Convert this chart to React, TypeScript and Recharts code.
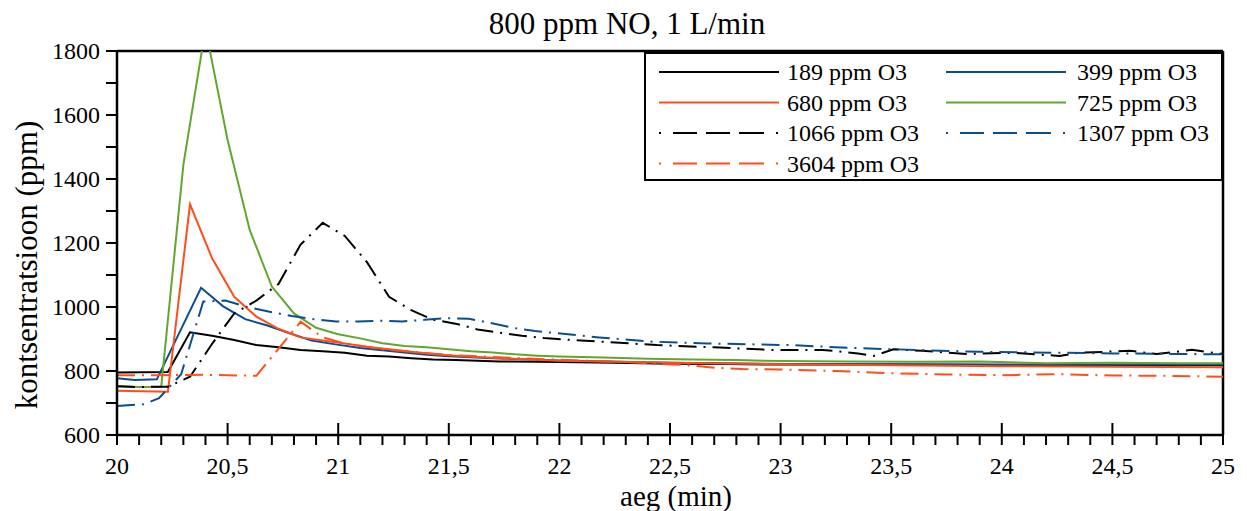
import React from 'react';
import { LineChart, Line, XAxis, YAxis, Legend, ReferenceLine, Label } from 'recharts';

const FONT = "'Liberation Serif', 'Times New Roman', serif";

const TITLE = '800 ppm NO, 1 L/min';
const X_LABEL = 'aeg (min)';
const Y_LABEL = 'kontsentratsioon (ppm)';

const xMajorTicks = [20, 20.5, 21, 21.5, 22, 22.5, 23, 23.5, 24, 24.5, 25];
const yTicks = [600, 700, 800, 900, 1000, 1100, 1200, 1300, 1400, 1500, 1600, 1700, 1800];
const yLabelTicks = [600, 800, 1000, 1200, 1400, 1600, 1800];

const t189 = [20.0, 20.23, 20.33, 20.43, 20.53, 20.63, 20.73, 20.83, 20.93, 21.03, 21.13, 21.23, 21.33, 21.43, 21.53, 21.73, 22.0, 22.25, 22.5, 22.75, 23.0, 23.5, 24.0, 24.5, 25.0];
const v189 = [795, 797, 921, 910, 897, 881, 874, 866, 862, 857, 848, 845, 840, 836, 834, 830, 828, 826, 823, 822, 820, 820, 819, 818, 818];

const t399 = [20.0, 20.08, 20.18, 20.38, 20.48, 20.58, 20.68, 20.78, 20.88, 20.98, 21.1, 21.2, 21.3, 21.4, 21.5, 21.7, 22.0, 22.5, 23.0, 23.5, 24.0, 24.5, 25.0];
const v399 = [777, 772, 774, 1060, 1002, 962, 942, 918, 895, 884, 872, 865, 858, 851, 846, 840, 833, 826, 822, 821, 820, 820, 820];

const t680 = [20.0, 20.23, 20.33, 20.43, 20.53, 20.63, 20.73, 20.83, 20.93, 21.03, 21.13, 21.23, 21.33, 21.43, 21.53, 21.73, 22.0, 22.5, 23.0, 23.5, 24.0, 24.5, 25.0];
const v680 = [738, 735, 1321, 1152, 1032, 970, 932, 905, 895, 886, 876, 868, 860, 853, 848, 840, 832, 826, 821, 818, 815, 813, 812];

const t725 = [20.0, 20.1, 20.2, 20.3, 20.4, 20.5, 20.6, 20.7, 20.8, 20.9, 21.0, 21.1, 21.2, 21.3, 21.4, 21.5, 21.6, 21.7, 21.8, 21.9, 22.0, 22.2, 22.4, 22.6, 22.8, 23.0, 23.3, 23.6, 23.9, 24.2, 24.5, 24.8, 25.0];
const v725 = [753, 750, 751, 1444, 1870, 1522, 1241, 1064, 980, 935, 915, 902, 887, 878, 874, 868, 862, 858, 852, 848, 845, 842, 838, 836, 834, 831, 830, 829, 830, 824, 826, 824, 824];

const t1066 = [20.0, 20.1, 20.23, 20.33, 20.43, 20.53, 20.63, 20.73, 20.83, 20.93, 21.03, 21.13, 21.23, 21.33, 21.43, 21.53, 21.63, 21.73, 21.83, 21.93, 22.03, 22.18, 22.44, 22.7, 22.95, 23.19, 23.35, 23.42, 23.51, 23.64, 23.84, 24.05, 24.26, 24.35, 24.58, 24.7, 24.86, 25.0];
const v1066 = [752, 750, 751, 782, 885, 980, 1020, 1072, 1195, 1263, 1222, 1140, 1032, 990, 960, 948, 930, 920, 910, 903, 898, 892, 881, 874, 866, 866, 855, 847, 868, 863, 853, 857, 847, 857, 863, 853, 866, 853];

const t1307 = [20.0, 20.12, 20.19, 20.29, 20.39, 20.49, 20.59, 20.69, 20.79, 20.89, 20.99, 21.09, 21.19, 21.29, 21.39, 21.49, 21.59, 21.69, 21.79, 21.89, 21.99, 22.18, 22.41, 22.67, 23.04, 23.36, 23.9, 24.5, 25.0];
const v1307 = [691, 696, 715, 790, 1017, 1020, 1000, 985, 972, 962, 955, 955, 957, 955, 960, 965, 963, 950, 935, 925, 918, 905, 892, 886, 881, 871, 860, 855, 852];

const t3604 = [20.0, 20.2, 20.4, 20.63, 20.83, 20.93, 21.03, 21.2, 21.5, 21.75, 22.0, 22.3, 22.56, 22.71, 22.83, 23.0, 23.25, 23.5, 23.75, 24.0, 24.25, 24.5, 24.75, 25.0];
const v3604 = [787, 787, 788, 785, 954, 905, 886, 868, 850, 842, 835, 828, 819, 810, 806, 805, 800, 793, 789, 787, 790, 786, 785, 782];

const BLACK = '#000000';
const BLUE = '#0b4e8e';
const RED = '#ff4d1c';
const GREEN = '#62a630';
const DASHDOT = '18 7 2 7';

const mk = (ts: number[], vs: number[]) => ts.map((t, i) => ({ t, v: vs[i] }));

const series = [
  { name: '189 ppm O3', data: mk(t189, v189), color: BLACK, dash: undefined as string | undefined },
  { name: '399 ppm O3', data: mk(t399, v399), color: BLUE, dash: undefined },
  { name: '680 ppm O3', data: mk(t680, v680), color: RED, dash: undefined },
  { name: '725 ppm O3', data: mk(t725, v725), color: GREEN, dash: undefined },
  { name: '1066 ppm O3', data: mk(t1066, v1066), color: BLACK, dash: DASHDOT },
  { name: '1307 ppm O3', data: mk(t1307, v1307), color: BLUE, dash: DASHDOT },
  { name: '3604 ppm O3', data: mk(t3604, v3604), color: RED, dash: DASHDOT },
];

// minor ticks every 0.1 between the labelled ones
const xAllTicks: number[] = [];
for (let i = 0; i <= 50; i++) xAllTicks.push(Math.round((20 + i * 0.1) * 10) / 10);

const fmt = (v: number) => String(v).replace('.', ',');

const XTick = (props: any) => {
  const { x, y, payload } = props;
  const v = payload.value as number;
  const major = xMajorTicks.some((m) => Math.abs(m - v) < 1e-6);
  return (
    <g>
      <line x1={x} x2={x} y1={major ? y - 12 : y} y2={y + 10} stroke="#000" strokeWidth={2} />
      {major && (
        <text x={x} y={y + 39} textAnchor="middle" fontFamily={FONT} fontSize={24} fill="#000">
          {fmt(v)}
        </text>
      )}
    </g>
  );
};

const YTick = (props: any) => {
  const { x, y, payload } = props;
  const v = payload.value as number;
  const labelled = yLabelTicks.includes(v);
  return (
    <g>
      <line x1={x - 11} x2={x} y1={y} y2={y} stroke="#000" strokeWidth={2} />
      {labelled && (
        <text x={x - 17} y={y + 8} textAnchor="end" fontFamily={FONT} fontSize={24} fill="#000">
          {fmt(v)}
        </text>
      )}
    </g>
  );
};

const YLabel = (props: any) => {
  const vb = props.viewBox || {};
  const cx = (vb.x ?? 17) + 20;
  const cy = (vb.y ?? 51) + (vb.height ?? 384) / 2 + 22;
  return (
    <text
      x={cx}
      y={cy}
      transform={`rotate(-90, ${cx}, ${cy})`}
      textAnchor="middle"
      fontFamily={FONT}
      fontSize={31}
      fill="#000"
    >
      {Y_LABEL}
    </text>
  );
};

const XLabel = (props: any) => {
  const vb = props.viewBox || {};
  const cx = (vb.x ?? 117) + (vb.width ?? 1106) / 2 + 6;
  const cy = (vb.y ?? 435) + 71;
  return (
    <text x={cx} y={cy} textAnchor="middle" fontFamily={FONT} fontSize={29} fill="#000">
      {X_LABEL}
    </text>
  );
};

const LEG_DASH = '2 12 24 9 24 9 25 12 2';

const LegendBox = () => {
  const rows = [
    [series[0], series[1]],
    [series[2], series[3]],
    [series[4], series[5]],
    [series[6]],
  ];
  const colLine = [15, 302];
  const colText = [143, 433];
  return (
    <svg width={579} height={129} style={{ display: 'block', overflow: 'visible' }}>
      <rect x={1} y={1} width={577} height={127} fill="#fff" stroke="#000" strokeWidth={2} />
      {rows.map((row, r) =>
        row.map((s, c) => {
          const cy = 20 + r * 30.5;
          return (
            <g key={s.name}>
              <line
                x1={colLine[c]}
                x2={colLine[c] + 120}
                y1={cy}
                y2={cy}
                stroke={s.color}
                strokeWidth={2}
                strokeDasharray={s.dash ? LEG_DASH : undefined}
              />
              <text x={colText[c]} y={cy + 8} fontFamily={FONT} fontSize={24} fill="#000">
                {s.name}
              </text>
            </g>
          );
        })
      )}
    </svg>
  );
};

export default function App() {
  return (
    <div style={{ position: 'absolute', left: 0, top: 0, width: 1247, height: 511, background: '#fff' }}>
      <div
        style={{
          position: 'absolute',
          left: 0,
          width: 1254,
          top: 9,
          textAlign: 'center',
          fontFamily: FONT,
          fontSize: 31,
          lineHeight: '30px',
          color: '#000',
          whiteSpace: 'nowrap',
          zIndex: 2,
        }}
      >
        {TITLE}
      </div>
      <LineChart width={1247} height={511} margin={{ top: 51, right: 24, left: 17, bottom: 16 }}>
        <XAxis
          type="number"
          dataKey="t"
          domain={[20, 25]}
          ticks={xAllTicks}
          interval={0}
          height={60}
          tickSize={0}
          tickMargin={0}
          tickLine={false}
          tick={<XTick />}
          axisLine={{ stroke: '#000', strokeWidth: 2.5 }}
          allowDataOverflow
        >
          <Label content={<XLabel />} />
        </XAxis>
        <YAxis
          type="number"
          domain={[600, 1800]}
          ticks={yTicks}
          interval={0}
          width={100}
          tickSize={0}
          tickMargin={0}
          tickLine={false}
          tick={<YTick />}
          axisLine={{ stroke: '#000', strokeWidth: 2.5 }}
          allowDataOverflow
        >
          <Label content={<YLabel />} />
        </YAxis>
        <ReferenceLine y={1800} stroke="#000" strokeWidth={2.5} />
        <ReferenceLine x={25} stroke="#000" strokeWidth={2.5} />
        {series.map((s) => (
          <Line
            key={s.name}
            data={s.data}
            dataKey="v"
            name={s.name}
            type="linear"
            stroke={s.color}
            strokeWidth={2}
            strokeDasharray={s.dash}
            dot={false}
            activeDot={false}
            isAnimationActive={false}
          />
        ))}
        <Legend
          layout="horizontal"
          verticalAlign="middle"
          align="center"
          content={<LegendBox />}
          wrapperStyle={{ position: 'absolute', left: 644, top: 52, width: 579, height: 129 }}
        />
      </LineChart>
    </div>
  );
}
